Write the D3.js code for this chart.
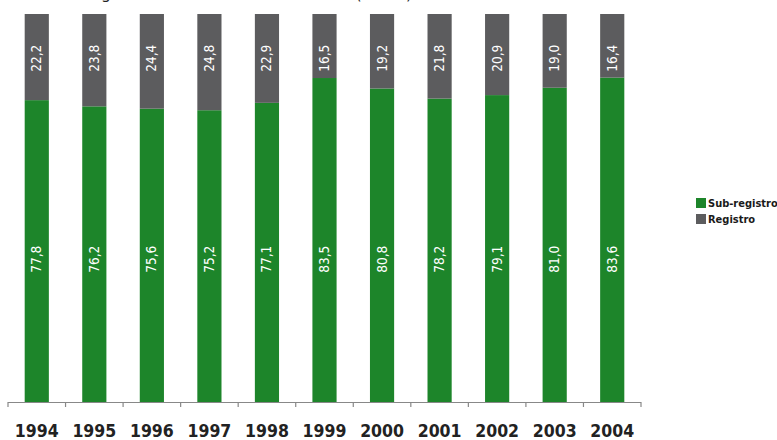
<!DOCTYPE html>
<html>
<head>
<meta charset="utf-8">
<script src="https://cdn.jsdelivr.net/npm/d3@7"></script>
<style>
  html, body { margin: 0; padding: 0; background: #fff; }
  svg { display: block; }
</style>
</head>
<body>
<div id="chart"></div>
<script>
// Nascimentos: sub-registro x registro, por ano (%)
const years = ["1994", "1995", "1996", "1997", "1998", "1999", "2000", "2001", "2002", "2003", "2004"];
const subRegistro = [77.8, 76.2, 75.6, 75.2, 77.1, 83.5, 80.8, 78.2, 79.1, 81.0, 83.6];
const registro = [22.2, 23.8, 24.4, 24.8, 22.9, 16.5, 19.2, 21.8, 20.9, 19.0, 16.4];
const seriesNames = ["Sub-registro", "Registro"];
const titleText = "Sub-registro de nascimentos ocorridos (em %)";

const W = 777, H = 440;
const colors = { "Sub-registro": "#1d852a", "Registro": "#5c5c5e" };

const svg = d3.select("#chart").append("svg")
  .attr("width", W).attr("height", H);

const rows = years.map((y, i) => ({ year: y, "Sub-registro": subRegistro[i], "Registro": registro[i] }));
const stack = d3.stack().keys(seriesNames);
const layers = stack(rows);

const x = d3.scaleBand().domain(years).range([8, 641]).paddingInner(0.58).paddingOuter(0.29);
const y = d3.scaleLinear().domain([0, 100]).range([402, 14]);

// Title (sits above the top edge; only its descenders show)
const title = svg.append("text")
  .attr("y", -1)
  .attr("font-family", "DejaVu Sans")
  .attr("font-size", 15.6)
  .attr("fill", "#222")
  .text(titleText);
const gIdx = titleText.indexOf("g");
const gOff = title.node().getSubStringLength(0, gIdx);
title.attr("x", 101 - gOff);

// Bars
const layerG = svg.append("g").selectAll("g")
  .data(layers).join("g")
  .attr("fill", d => colors[d.key]);

layerG.selectAll("rect")
  .data(d => d.map(v => ({ year: v.data.year, y0: v[0], y1: v[1] })))
  .join("rect")
  .attr("x", d => x(d.year))
  .attr("width", x.bandwidth())
  .attr("y", d => y(d.y1))
  .attr("height", d => y(d.y0) - y(d.y1));

// Value labels, rotated
const fmt = v => d3.format(".1f")(v).replace(".", ",");
const labelPos = { "Sub-registro": 36.8, "Registro": 88.6 };
layers.forEach(layer => {
  svg.append("g").selectAll("text")
    .data(layer.map(v => ({ year: v.data.year, val: v.data[layer.key] })))
    .join("text")
    .attr("transform", d => `translate(${x(d.year) + x.bandwidth() / 2 + 4.5},${y(labelPos[layer.key])}) rotate(-90)`)
    .attr("text-anchor", "middle")
    .attr("font-family", "DejaVu Sans Condensed")
    .attr("font-size", 13.5)
    .attr("fill", "#fff")
    .text(d => fmt(d.val));
});

// X axis: ticks on band boundaries
const axisG = svg.append("g");
axisG.append("line")
  .attr("x1", x.range()[0]).attr("x2", x.range()[1])
  .attr("y1", 402.5).attr("y2", 402.5)
  .attr("stroke", "#888").attr("stroke-width", 1.2);
const boundaries = years.map(yr => x(yr) - x.step() * x.paddingInner() / 2).concat([x.range()[1]]);
boundaries[0] = x.range()[0];
axisG.selectAll("line.tick")
  .data(boundaries).join("line")
  .attr("class", "tick")
  .attr("x1", d => d).attr("x2", d => d)
  .attr("y1", 402).attr("y2", 407)
  .attr("stroke", "#888").attr("stroke-width", 1.2);
axisG.selectAll("text")
  .data(years).join("text")
  .attr("x", d => x(d) + x.bandwidth() / 2)
  .attr("y", 437)
  .attr("text-anchor", "middle")
  .attr("font-family", "DejaVu Sans Condensed")
  .attr("font-weight", "bold")
  .attr("font-size", 17.5)
  .attr("fill", "#222")
  .text(d => d);

// Legend
const legend = svg.append("g").attr("transform", "translate(696,207)");
seriesNames.forEach((name, i) => {
  const row = legend.append("g").attr("transform", `translate(0,${i * 16})`);
  row.append("rect").attr("width", 10).attr("height", 10).attr("y", -9)
    .attr("fill", colors[name]);
  row.append("text").attr("x", 12).attr("y", 0)
    .attr("font-family", "DejaVu Sans Condensed")
    .attr("font-weight", "bold")
    .attr("font-size", 11)
    .attr("fill", "#1a1a1a")
    .text(name);
});
</script>
</body>
</html>
